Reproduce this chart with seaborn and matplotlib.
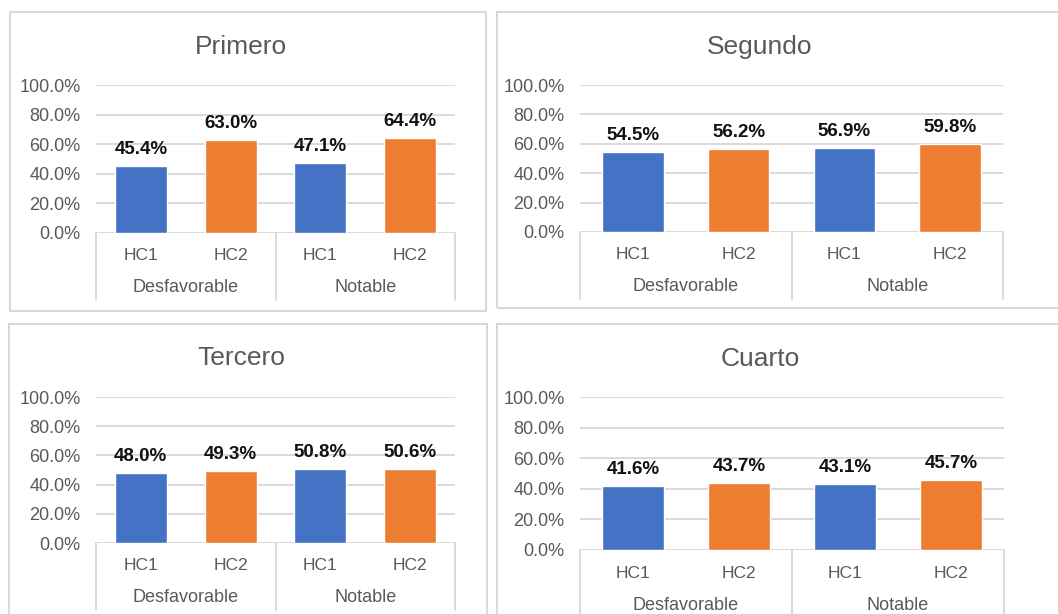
import matplotlib
matplotlib.use("Agg")
import matplotlib.pyplot as plt
from matplotlib.patches import Rectangle
from matplotlib.lines import Line2D
import seaborn as sns
import pandas as pd

# ---- data ----
titulos = ["Primero", "Segundo", "Tercero", "Cuarto"]
grupos = ["Desfavorable", "Notable"]
series = ["HC1", "HC2"]
primero = [45.4, 63.0, 47.1, 64.4]
segundo = [54.5, 56.2, 56.9, 59.8]
tercero = [48.0, 49.3, 50.8, 50.6]
cuarto = [41.6, 43.7, 43.1, 45.7]
valores = [primero, segundo, tercero, cuarto]
yticks = [0, 20, 40, 60, 80, 100]

sns.set_style("white")
plt.rcParams["font.family"] = ["Liberation Sans", "DejaVu Sans"]

W, H = 1058, 614
fig = plt.figure(figsize=(W / 100, H / 100), dpi=100)

def fx(px):
    return px / W

def fy(py):
    return 1 - py / H

# panel layout in pixels: box (l, t, r, b), axes (l, t, r, b), title (x, baseline y)
layout = [
    dict(box=(10, 12, 486, 311), ax=(96, 85, 455, 233), title=(241, 54)),
    dict(box=(497, 12, 1070, 308), ax=(580, 85, 1003, 232), title=(760, 54)),
    dict(box=(9, 324, 487, 640), ax=(96, 397, 455, 543), title=(241, 365)),
    dict(box=(497, 324, 1070, 640), ax=(580, 397, 1004, 550), title=(760, 366)),
]

colores = {"HC1": "#4472C4", "HC2": "#ED7D31"}
gris = "#D9D9D9"
texto = "#595959"

for k, (tit, vals, lay) in enumerate(zip(titulos, valores, layout)):
    bl, bt, br, bb = lay["box"]
    fig.patches.append(Rectangle((fx(bl), fy(bb)), fx(br - bl), (bb - bt) / H,
                                 transform=fig.transFigure, fill=False,
                                 edgecolor=gris, linewidth=1.5, zorder=0))
    al, at, ar, ab = lay["ax"]
    ax = fig.add_axes([fx(al), fy(ab), fx(ar - al), (ab - at) / H])
    ax.set_facecolor("none")

    keys = [f"{g}|{s}" for g in grupos for s in series]
    df = pd.DataFrame({
        "key": keys,
        "serie": [s for g in grupos for s in series],
        "valor": vals,
    })
    sns.barplot(data=df, x="key", y="valor", hue="serie", order=keys,
                palette=colores, dodge=False, width=0.58, saturation=1,
                legend=False, ax=ax, zorder=3)
    ax.set_xlim(-0.5, 3.5)
    ax.set_ylim(0, 100)
    ax.set_yticks(yticks)
    ax.set_yticklabels([f"{v:.1f}%" for v in yticks], fontsize=13, color=texto)
    ax.tick_params(axis="y", length=0, pad=11)
    for v in yticks:
        ax.axhline(v, color=gris, linewidth=1.4, zorder=1)
    for s in ax.spines.values():
        s.set_visible(False)
    ax.set_xlabel("")
    ax.set_ylabel("")
    ax.set_xticks([])

    # data labels
    for i, v in enumerate(vals):
        ax.annotate(f"{v:.1f}%", xy=(i, v), xytext=(0, 12), textcoords="offset pixels",
                    ha="center", va="baseline", fontsize=13.5, fontweight="bold",
                    color="#111111", zorder=4)

    # multi-level category axis
    axh = ab - at
    for i, s in enumerate(df["serie"]):
        ax.annotate(s, xy=(i, 0), xycoords=("data", "axes fraction"),
                    xytext=(0, -23), textcoords="offset pixels",
                    ha="center", va="center", fontsize=12.5, color=texto,
                    annotation_clip=False)
    for j, g in enumerate(grupos):
        ax.annotate(g, xy=(2 * j + 0.5, 0), xycoords=("data", "axes fraction"),
                    xytext=(0, -55), textcoords="offset pixels",
                    ha="center", va="center", fontsize=13, color=texto,
                    annotation_clip=False)
    for xsep in [-0.5, 1.5, 3.5]:
        ax.add_line(Line2D([xsep, xsep], [0, -67 / axh], transform=ax.get_xaxis_transform(),
                           color=gris, linewidth=1.4, clip_on=False))

    tx, ty = lay["title"]
    fig.text(fx(tx), fy(ty), tit, ha="center", va="baseline", fontsize=19, color=texto)

fig.savefig("out.png", dpi=100)
